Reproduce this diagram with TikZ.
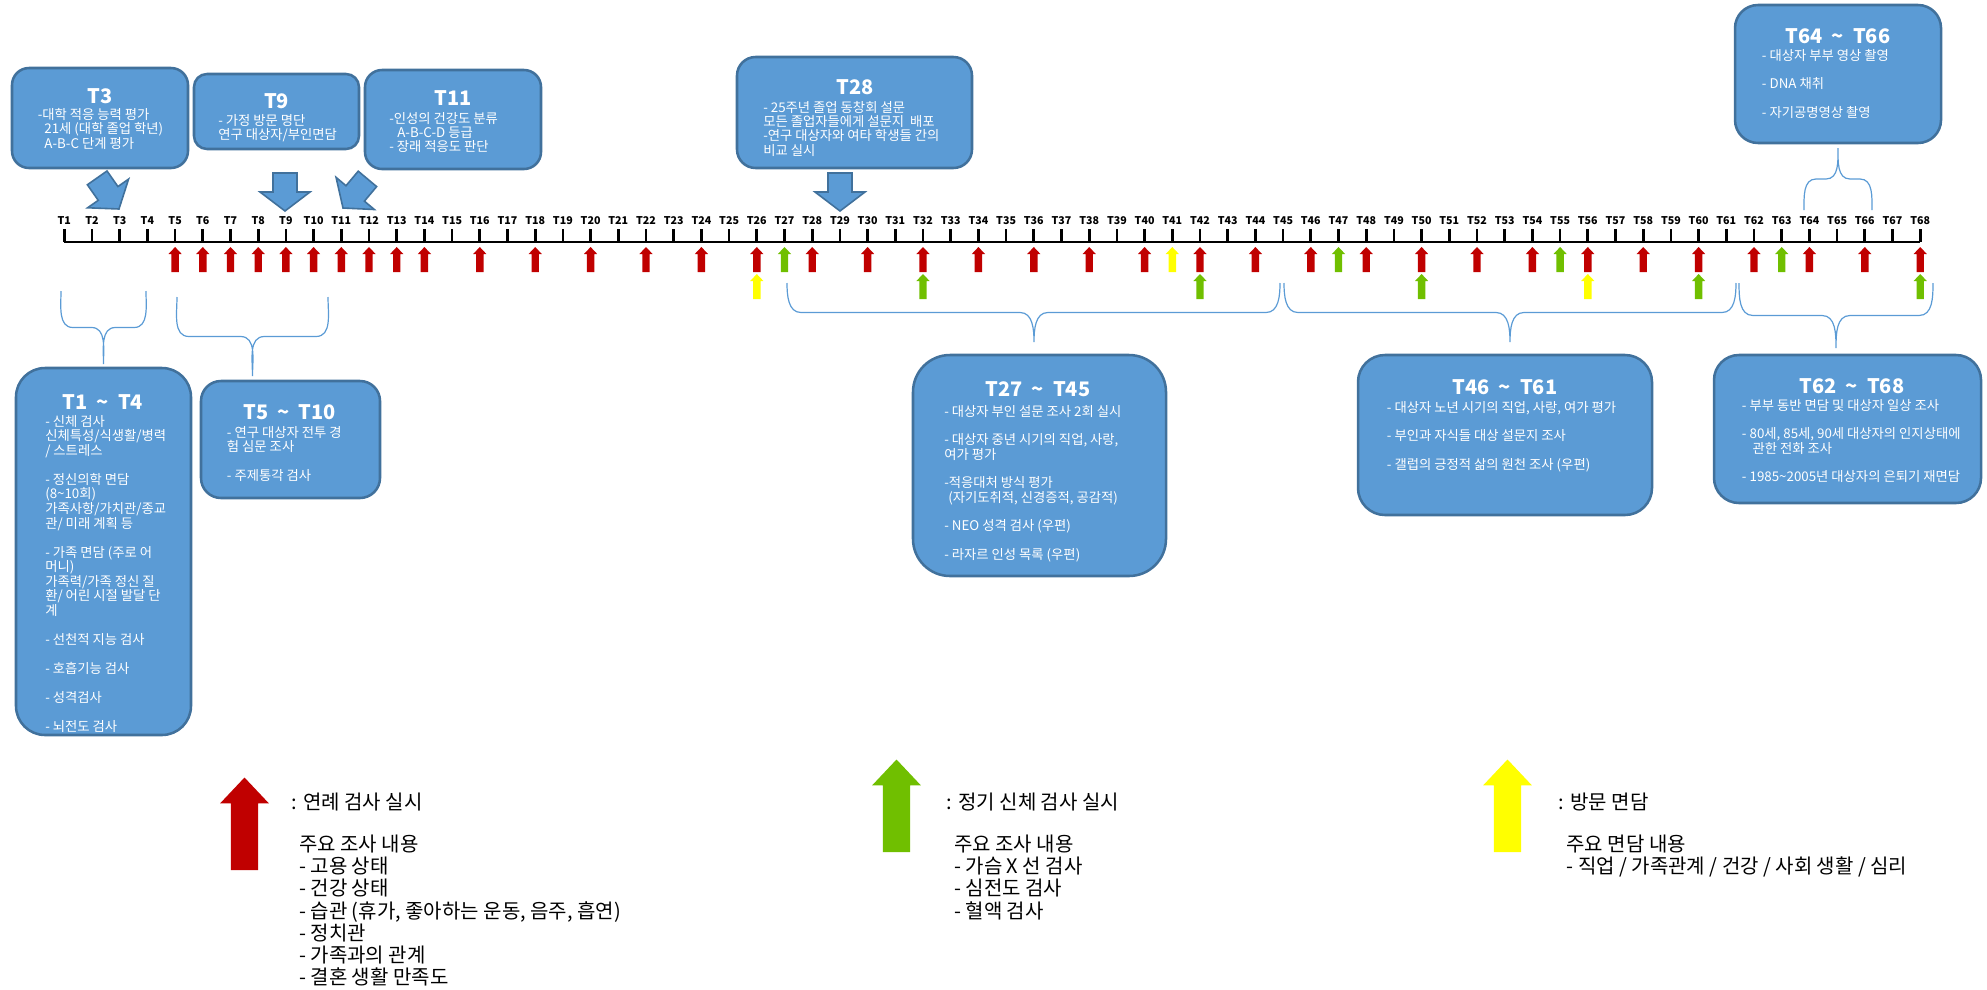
\documentclass[tikz,border=0pt]{standalone}
\usepackage{fontspec}
\setmainfont{Noto Sans CJK KR}
\usetikzlibrary{calc}

\definecolor{boxfill}{HTML}{5B9BD5}
\definecolor{boxline}{HTML}{41719C}
\definecolor{redA}{HTML}{C00000}
\definecolor{greenA}{HTML}{70BF00}
\definecolor{yellowA}{HTML}{FFFF00}

\tikzset{
  box/.style={draw=boxline, fill=boxfill, line width=1.9pt},
  ttl/.style={text=white, font=\fontsize{15}{18}\selectfont\bfseries, inner sep=0pt},
  body/.style={text=white, font=\fontsize{10}{10.75}\selectfont, align=left, anchor=north west, inner sep=0pt},
  tlabel/.style={font=\fontsize{8}{9}\selectfont\bfseries, inner sep=0pt},
  tk/.style={line width=2pt},
  tline/.style={line width=2pt},
  legtxt/.style={font=\fontsize{15}{16.7}\selectfont, align=left, anchor=north west, inner sep=0pt},
  brc/.style={draw=boxfill, line width=0.9pt},
  uparr/.pic={\fill (-3.7,0) -- (-3.7,-18) -- (-6.6,-18) -- (0,-25) -- (6.6,-18) -- (3.7,-18) -- (3.7,0) -- cycle;},
  downarr/.pic={\filldraw[fill=boxfill, draw=boxline, line width=1.2pt] (-12,-38) -- (-12,-19) -- (-25,-19) -- (0,0) -- (25,-19) -- (12,-19) -- (12,-38) -- cycle;}
}

\newcommand{\tsep}{\hspace{0.45em}\textasciitilde\hspace{0.45em}}

\begin{document}
\begin{tikzpicture}[x=0.75pt, y=-0.75pt]
\useasboundingbox (0,0) rectangle (1987,989);

% Timeline
\foreach \i in {1,...,68} {
  \coordinate (t\i) at ({64.3+27.7*(\i-1)},242);
  \draw[tk] (t\i) -- ++(0,-13);
  \node[tlabel] (lab\i) at ({64.3+27.7*(\i-1)},221) {T\i};
}
\draw[tline] (t1) -- (t68);

% Arrows under the timeline
\foreach \i in {5,...,14} \pic[color=redA] at ($(t\i)+(0,30)$) {uparr};
\foreach \i in {16,18,...,68} \pic[color=redA] at ($(t\i)+(0,30)$) {uparr};
\foreach \i in {27,47,55,63} \pic[color=greenA] at ($(t\i)+(0,30)$) {uparr};
\pic[color=yellowA] at ($(t41)+(0,30)$) {uparr};
\foreach \i in {26,56} \pic[color=yellowA] at ($(t\i)+(0,57)$) {uparr};
\foreach \i in {32,42,50,60,68} \pic[color=greenA] at ($(t\i)+(0,57)$) {uparr};

% Top boxes
\node[box, minimum width=132pt, minimum height=75pt, rounded corners=12.75pt] (bT3) at (100,118) {};
\node[ttl] (hT3) at (100,96) {T3};
\node[body] (xT3) at (37.5,108) {-대학 적응 능력 평가\\\hspace*{0.5em}21세 (대학 졸업 학년)\\\hspace*{0.5em}A-B-C 단계 평가};

\node[box, minimum width=123.75pt, minimum height=56.25pt, rounded corners=9.75pt] (bT9) at (276.5,111.5) {};
\node[ttl] (hT9) at (276.5,101) {T9};
\node[body] (xT9) at (218,114) {- 가정 방문 명단\\연구 대상자/부인면담};

\node[box, minimum width=132pt, minimum height=74.25pt, rounded corners=12.75pt] (bT11) at (453,119.5) {};
\node[ttl] (hT11) at (453,98) {T11};
\node[body] (xT11) at (389,112) {-인성의 건강도 분류\\\hspace*{0.6em}A-B-C-D 등급\\- 장래 적응도 판단};

\node[box, minimum width=176.25pt, minimum height=83.25pt, rounded corners=13.9pt] (bT28) at (854.5,112.5) {};
\node[ttl] (hT28) at (855,87) {T28};
\node[body] (xT28) at (763,100.7) {- 25주년 졸업 동창회 설문\\모든 졸업자들에게 설문지~~배포\\-연구 대상자와 여타 학생들 간의\\비교 실시};

\node[box, minimum width=154.5pt, minimum height=103.5pt, rounded corners=17.25pt] (bT64) at (1838,74) {};
\node[ttl] (hT64) at (1838,36) {T64\tsep T66};
\node[body] (xT64) at (1761.7,49) {- 대상자 부부 영상 촬영\\[10.75pt]- DNA 채취\\[10.75pt]- 자기공명영상 촬영};

% Block arrows
\pic[rotate=35] at (119,209) {downarr};
\pic at (285,211) {downarr};
\pic[rotate=-40] at (343,208) {downarr};
\pic at (840,211) {downarr};

% Braces
\draw[brc] (61,291) to[out=-90,in=180] (73,327.5) -- (91.5,327.5) to[out=0,in=90] (103.5,364)
  to[out=90,in=180] (115.5,327.5) -- (134,327.5) to[out=0,in=-90] (146,291);
\draw[brc] (177,297) to[out=-90,in=180] (189,336.5) -- (240.5,336.5) to[out=0,in=90] (252.5,376)
  to[out=90,in=180] (264.5,336.5) -- (316,336.5) to[out=0,in=-90] (328,297);
\draw[brc] (787,283) to[out=-90,in=180] (801,312.5) -- (1020,312.5) to[out=0,in=90] (1034,342)
  to[out=90,in=180] (1048,312.5) -- (1266,312.5) to[out=0,in=-90] (1280,283);
\draw[brc] (1284,283) to[out=-90,in=180] (1298,312.5) -- (1496,312.5) to[out=0,in=90] (1510,342)
  to[out=90,in=180] (1524,312.5) -- (1722,312.5) to[out=0,in=-90] (1736,283);
\draw[brc] (1739,283) to[out=-90,in=180] (1753,315.5) -- (1822,315.5) to[out=0,in=90] (1836,348)
  to[out=90,in=180] (1850,315.5) -- (1919,315.5) to[out=0,in=-90] (1933,283);
\draw[brc] (1804,210) to[out=90,in=180] (1816,179) -- (1826,179) to[out=0,in=-90] (1838,148)
  to[out=-90,in=180] (1850,179) -- (1860,179) to[out=0,in=90] (1872,210);

% Bottom boxes
\node[box, minimum width=131.25pt, minimum height=275.25pt, rounded corners=21.75pt] (bT1) at (103.5,551.5) {};
\node[ttl] (hT1) at (103,402) {T1\tsep T4};
\node[body, font=\fontsize{10}{10.9}\selectfont] (xT1) at (45,415) {- 신체 검사\\신체특성/식생활/병력\\/ 스트레스\\[10.9pt]- 정신의학 면담\\(8\textasciitilde10회)\\가족사항/가치관/종교\\관/ 미래 계획 등\\[10.9pt]- 가족 면담 (주로 어\\머니)\\가족력/가족 정신 질\\환/ 어린 시절 발달 단\\계\\[10.9pt]- 선천적 지능 검사\\[10.9pt]- 호흡기능 검사\\[10.9pt]- 성격검사\\[10.9pt]- 뇌전도 검사};

\node[box, minimum width=134.25pt, minimum height=87.75pt, rounded corners=15pt] (bT5) at (290.5,439.5) {};
\node[ttl] (hT5) at (290,412) {T5\tsep T10};
\node[body] (xT5) at (226.7,425.7) {- 연구 대상자 전투 경\\험 심문 조사\\[10.75pt]- 주제통각 검사};

\node[box, minimum width=189.75pt, minimum height=165.75pt, rounded corners=27.75pt] (bT27) at (1039.5,465.5) {};
\node[ttl] (hT27) at (1038,389) {T27\tsep T45};
\node[body] (xT27) at (944,404.7) {- 대상자 부인 설문 조사 2회 실시\\[10.75pt]- 대상자 중년 시기의 직업, 사랑,\\여가 평가\\[10.75pt]-적응대처 방식 평가\\\hspace*{0.3em}(자기도취적, 신경증적, 공감적)\\[10.75pt]- NEO 성격 검사 (우편)\\[10.75pt]- 라자르 인성 목록 (우편)};

\node[box, minimum width=220.5pt, minimum height=120pt, rounded corners=20.25pt] (bT46) at (1505,435) {};
\node[ttl] (hT46) at (1505,387) {T46\tsep T61};
\node[body] (xT46) at (1386.7,400.7) {- 대상자 노년 시기의 직업, 사랑, 여가 평가\\[10.75pt]- 부인과 자식들 대상 설문지 조사\\[10.75pt]- 갤럽의 긍정적 삶의 원천 조사 (우편)};

\node[box, minimum width=200.25pt, minimum height=111pt, rounded corners=18.75pt] (bT62) at (1847.5,429) {};
\node[ttl] (hT62) at (1852,386) {T62\tsep T68};
\node[body] (xT62) at (1741.7,399) {- 부부 동반 면담 및 대상자 일상 조사\\[10.75pt]- 80세, 85세, 90세 대상자의 인지상태에\\\hspace*{0.8em}관한 전화 조사\\[10.75pt]- 1985\textasciitilde2005년 대상자의 은퇴기 재면담};

% Legend
\pic[color=redA, scale=3.7] at (244.5,870) {uparr};
\node[legtxt] (kRed) at (291.5,792.5) {: 연례 검사 실시};
\node[legtxt] (lRed) at (299,834.5) {주요 조사 내용\\- 고용 상태\\- 건강 상태\\- 습관 (휴가, 좋아하는 운동, 음주, 흡연)\\- 정치관\\- 가족과의 관계\\- 결혼 생활 만족도};

\pic[color=greenA, scale=3.7] at (896.5,852) {uparr};
\node[legtxt] (kGreen) at (946.6,792.5) {: 정기 신체 검사 실시};
\node[legtxt] (lGreen) at (954,834.5) {주요 조사 내용\\- 가슴 X 선 검사\\- 심전도 검사\\- 혈액 검사};

\pic[color=yellowA, scale=3.7] at (1507.5,852) {uparr};
\node[legtxt] (kYellow) at (1558.7,792.5) {: 방문 면담};
\node[legtxt] (lYellow) at (1566.3,834.5) {주요 면담 내용\\- 직업 / 가족관계 / 건강 / 사회 생활 / 심리};
\end{tikzpicture}
\end{document}
